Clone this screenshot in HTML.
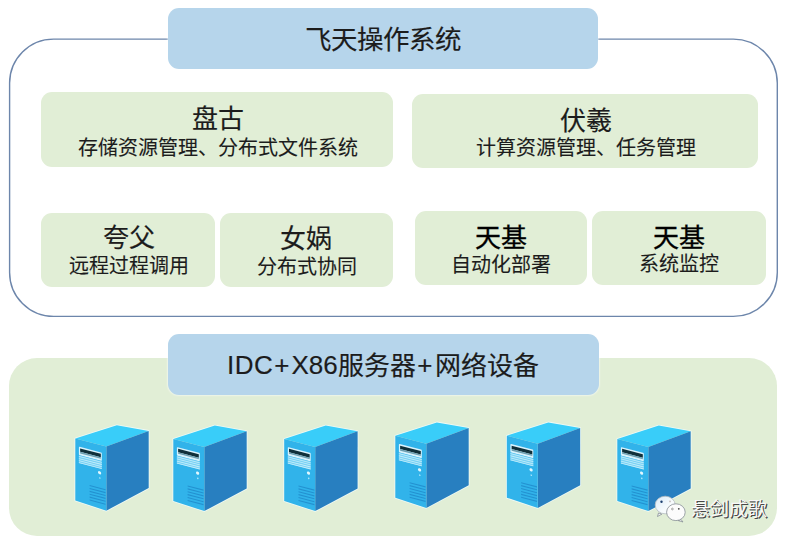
<!DOCTYPE html>
<html lang="zh-CN">
<head>
<meta charset="utf-8">
<style>
html,body{margin:0;padding:0;background:#fff;}
body{width:793px;height:544px;position:relative;overflow:hidden;font-family:"Liberation Sans",sans-serif;color:#1c1c1c;}
.a{position:absolute;}
.label{background:#b6d5eb;border-radius:11px;box-shadow:0 0 1.5px 1px rgba(255,255,255,0.45);}
.g{background:#e1eed6;border-radius:11px;}
.tx{position:absolute;white-space:nowrap;text-align:center;transform:translateX(-50%);}
.t1{font-size:26px;line-height:26px;-webkit-text-stroke:0.15px #1c1c1c;}
.t2{font-size:20px;line-height:20px;-webkit-text-stroke:0.1px #1c1c1c;}
.bottom{left:9px;top:358px;width:768px;height:178px;background:#e1eed6;border-radius:28px;}
svg{position:absolute;overflow:visible;}
</style>
</head>
<body>
<svg width="793" height="544" style="left:0;top:0"><rect x="9.6" y="39.1" width="767.7" height="277.3" rx="44" ry="44" fill="none" stroke="#6d86ab" stroke-width="1.4"/></svg>
<div class="a label" style="left:168px;top:8px;width:430px;height:61px;"></div>
<div class="tx t1" style="left:383px;top:27px;font-size:26.5px;">飞天操作系统</div>

<div class="a g" style="left:41px;top:92px;width:352px;height:74.5px;"></div>
<div class="a g" style="left:412px;top:93.5px;width:346px;height:74.5px;"></div>
<div class="a g" style="left:41px;top:213px;width:174px;height:74px;"></div>
<div class="a g" style="left:220px;top:213px;width:173px;height:74px;"></div>
<div class="a g" style="left:415px;top:211px;width:172px;height:74px;"></div>
<div class="a g" style="left:592px;top:211px;width:174px;height:74px;"></div>

<div class="tx t1" style="left:217.5px;top:105.5px;">盘古</div>
<div class="tx t2" style="left:217.5px;top:137.7px;">存储资源管理、分布式文件系统</div>
<div class="tx t1" style="left:585.5px;top:107.7px;">伏羲</div>
<div class="tx t2" style="left:585.5px;top:137.8px;">计算资源管理、任务管理</div>
<div class="tx t1" style="left:128.6px;top:225px;">夸父</div>
<div class="tx t2" style="left:128.6px;top:256px;">远程过程调用</div>
<div class="tx t1" style="left:306px;top:225.5px;">女娲</div>
<div class="tx t2" style="left:306.5px;top:256.5px;">分布式协同</div>
<div class="tx t1" style="left:501px;top:225px;color:#000;-webkit-text-stroke:0.35px #000;">天基</div>
<div class="tx t2" style="left:500.5px;top:254.5px;">自动化部署</div>
<div class="tx t1" style="left:678.7px;top:225px;color:#000;-webkit-text-stroke:0.35px #000;">天基</div>
<div class="tx t2" style="left:678.7px;top:254.3px;">系统监控</div>

<div class="a bottom"></div>
<div class="a label" style="left:168px;top:333.5px;width:430.5px;height:61px;"></div>
<div class="a t1" style="left:227px;top:353px;white-space:nowrap;"><span style="position:relative;top:-1.5px;letter-spacing:0.5px;">IDC</span><span style="position:relative;top:-1.5px;margin:0 2px 0 1px;">+</span><span style="position:relative;top:-1.5px;">X86</span>服务器<span style="position:relative;top:-1px;margin:0 2.5px 0 1.5px;">+</span>网络设备</div>


<svg width="793" height="544" style="left:0;top:0">
<g transform="translate(75.3,438.5)">
  <polygon points="0,0 41.5,-13.3 73.4,-7.6 73.4,49.6 31,72.2 0,62" fill="none" stroke="#effaf6" stroke-width="1.6" stroke-linejoin="round"/>
  <polygon points="0,0 41.5,-13.3 73.4,-7.6 31,8" fill="#39cdf9"/>
  <polygon points="31,8 73.4,-7.6 73.4,49.6 31,72.2" fill="#287fc0"/>
  <polygon points="0,0 31,8 31,72.2 0,62" fill="#31b3ea"/>
  <g transform="skewY(14.6)">
    <rect x="3.6" y="7.2" width="22.9" height="8.4" rx="0.8" fill="#d9f3fd"/>
    <rect x="4.8" y="8.7" width="20.7" height="3.4" fill="#10303a"/>
    <rect x="4.8" y="12.1" width="20.7" height="1.6" fill="#6e9fb0"/>
    <rect x="3.6" y="15.8" width="22.9" height="7.8" fill="#7ad2f4"/>
    <g fill="#c8effc">
      <rect x="3.6" y="16.6" width="22.9" height="0.8"/>
      <rect x="3.6" y="18.7" width="22.9" height="0.8"/>
      <rect x="3.6" y="20.8" width="22.9" height="0.8"/>
      <rect x="3.6" y="22.8" width="22.9" height="0.8"/>
    </g>
    <circle cx="24.3" cy="27.9" r="1.6" fill="#e3f7fe"/>
    <circle cx="24.5" cy="33.1" r="0.8" fill="#a8e4fa"/>
    <g fill="#2391d0">
      <rect x="14.3" y="42.8" width="15.9" height="1.1"/>
      <rect x="14.3" y="45.7" width="15.9" height="1.1"/>
      <rect x="14.3" y="48.6" width="15.9" height="1.1"/>
      <rect x="14.3" y="51.5" width="15.9" height="1.1"/>
      <rect x="14.3" y="54.4" width="15.9" height="1.1"/>
      <rect x="14.3" y="57.3" width="15.9" height="1.1"/>
    </g>
  </g>
</g>
<g transform="translate(173.3,438.9)">
  <polygon points="0,0 41.5,-13.3 73.4,-7.6 73.4,49.6 31,72.2 0,62" fill="none" stroke="#effaf6" stroke-width="1.6" stroke-linejoin="round"/>
  <polygon points="0,0 41.5,-13.3 73.4,-7.6 31,8" fill="#39cdf9"/>
  <polygon points="31,8 73.4,-7.6 73.4,49.6 31,72.2" fill="#287fc0"/>
  <polygon points="0,0 31,8 31,72.2 0,62" fill="#31b3ea"/>
  <g transform="skewY(14.6)">
    <rect x="3.6" y="7.2" width="22.9" height="8.4" rx="0.8" fill="#d9f3fd"/>
    <rect x="4.8" y="8.7" width="20.7" height="3.4" fill="#10303a"/>
    <rect x="4.8" y="12.1" width="20.7" height="1.6" fill="#6e9fb0"/>
    <rect x="3.6" y="15.8" width="22.9" height="7.8" fill="#7ad2f4"/>
    <g fill="#c8effc">
      <rect x="3.6" y="16.6" width="22.9" height="0.8"/>
      <rect x="3.6" y="18.7" width="22.9" height="0.8"/>
      <rect x="3.6" y="20.8" width="22.9" height="0.8"/>
      <rect x="3.6" y="22.8" width="22.9" height="0.8"/>
    </g>
    <circle cx="24.3" cy="27.9" r="1.6" fill="#e3f7fe"/>
    <circle cx="24.5" cy="33.1" r="0.8" fill="#a8e4fa"/>
    <g fill="#2391d0">
      <rect x="14.3" y="42.8" width="15.9" height="1.1"/>
      <rect x="14.3" y="45.7" width="15.9" height="1.1"/>
      <rect x="14.3" y="48.6" width="15.9" height="1.1"/>
      <rect x="14.3" y="51.5" width="15.9" height="1.1"/>
      <rect x="14.3" y="54.4" width="15.9" height="1.1"/>
      <rect x="14.3" y="57.3" width="15.9" height="1.1"/>
    </g>
  </g>
</g>
<g transform="translate(284.2,438.9)">
  <polygon points="0,0 41.5,-13.3 73.4,-7.6 73.4,49.6 31,72.2 0,62" fill="none" stroke="#effaf6" stroke-width="1.6" stroke-linejoin="round"/>
  <polygon points="0,0 41.5,-13.3 73.4,-7.6 31,8" fill="#39cdf9"/>
  <polygon points="31,8 73.4,-7.6 73.4,49.6 31,72.2" fill="#287fc0"/>
  <polygon points="0,0 31,8 31,72.2 0,62" fill="#31b3ea"/>
  <g transform="skewY(14.6)">
    <rect x="3.6" y="7.2" width="22.9" height="8.4" rx="0.8" fill="#d9f3fd"/>
    <rect x="4.8" y="8.7" width="20.7" height="3.4" fill="#10303a"/>
    <rect x="4.8" y="12.1" width="20.7" height="1.6" fill="#6e9fb0"/>
    <rect x="3.6" y="15.8" width="22.9" height="7.8" fill="#7ad2f4"/>
    <g fill="#c8effc">
      <rect x="3.6" y="16.6" width="22.9" height="0.8"/>
      <rect x="3.6" y="18.7" width="22.9" height="0.8"/>
      <rect x="3.6" y="20.8" width="22.9" height="0.8"/>
      <rect x="3.6" y="22.8" width="22.9" height="0.8"/>
    </g>
    <circle cx="24.3" cy="27.9" r="1.6" fill="#e3f7fe"/>
    <circle cx="24.5" cy="33.1" r="0.8" fill="#a8e4fa"/>
    <g fill="#2391d0">
      <rect x="14.3" y="42.8" width="15.9" height="1.1"/>
      <rect x="14.3" y="45.7" width="15.9" height="1.1"/>
      <rect x="14.3" y="48.6" width="15.9" height="1.1"/>
      <rect x="14.3" y="51.5" width="15.9" height="1.1"/>
      <rect x="14.3" y="54.4" width="15.9" height="1.1"/>
      <rect x="14.3" y="57.3" width="15.9" height="1.1"/>
    </g>
  </g>
</g>
<g transform="translate(395.3,435.7)">
  <polygon points="0,0 41.5,-13.3 73.4,-7.6 73.4,49.6 31,72.2 0,62" fill="none" stroke="#effaf6" stroke-width="1.6" stroke-linejoin="round"/>
  <polygon points="0,0 41.5,-13.3 73.4,-7.6 31,8" fill="#39cdf9"/>
  <polygon points="31,8 73.4,-7.6 73.4,49.6 31,72.2" fill="#287fc0"/>
  <polygon points="0,0 31,8 31,72.2 0,62" fill="#31b3ea"/>
  <g transform="skewY(14.6)">
    <rect x="3.6" y="7.2" width="22.9" height="8.4" rx="0.8" fill="#d9f3fd"/>
    <rect x="4.8" y="8.7" width="20.7" height="3.4" fill="#10303a"/>
    <rect x="4.8" y="12.1" width="20.7" height="1.6" fill="#6e9fb0"/>
    <rect x="3.6" y="15.8" width="22.9" height="7.8" fill="#7ad2f4"/>
    <g fill="#c8effc">
      <rect x="3.6" y="16.6" width="22.9" height="0.8"/>
      <rect x="3.6" y="18.7" width="22.9" height="0.8"/>
      <rect x="3.6" y="20.8" width="22.9" height="0.8"/>
      <rect x="3.6" y="22.8" width="22.9" height="0.8"/>
    </g>
    <circle cx="24.3" cy="27.9" r="1.6" fill="#e3f7fe"/>
    <circle cx="24.5" cy="33.1" r="0.8" fill="#a8e4fa"/>
    <g fill="#2391d0">
      <rect x="14.3" y="42.8" width="15.9" height="1.1"/>
      <rect x="14.3" y="45.7" width="15.9" height="1.1"/>
      <rect x="14.3" y="48.6" width="15.9" height="1.1"/>
      <rect x="14.3" y="51.5" width="15.9" height="1.1"/>
      <rect x="14.3" y="54.4" width="15.9" height="1.1"/>
      <rect x="14.3" y="57.3" width="15.9" height="1.1"/>
    </g>
  </g>
</g>
<g transform="translate(506.8,435.7)">
  <polygon points="0,0 41.5,-13.3 73.4,-7.6 73.4,49.6 31,72.2 0,62" fill="none" stroke="#effaf6" stroke-width="1.6" stroke-linejoin="round"/>
  <polygon points="0,0 41.5,-13.3 73.4,-7.6 31,8" fill="#39cdf9"/>
  <polygon points="31,8 73.4,-7.6 73.4,49.6 31,72.2" fill="#287fc0"/>
  <polygon points="0,0 31,8 31,72.2 0,62" fill="#31b3ea"/>
  <g transform="skewY(14.6)">
    <rect x="3.6" y="7.2" width="22.9" height="8.4" rx="0.8" fill="#d9f3fd"/>
    <rect x="4.8" y="8.7" width="20.7" height="3.4" fill="#10303a"/>
    <rect x="4.8" y="12.1" width="20.7" height="1.6" fill="#6e9fb0"/>
    <rect x="3.6" y="15.8" width="22.9" height="7.8" fill="#7ad2f4"/>
    <g fill="#c8effc">
      <rect x="3.6" y="16.6" width="22.9" height="0.8"/>
      <rect x="3.6" y="18.7" width="22.9" height="0.8"/>
      <rect x="3.6" y="20.8" width="22.9" height="0.8"/>
      <rect x="3.6" y="22.8" width="22.9" height="0.8"/>
    </g>
    <circle cx="24.3" cy="27.9" r="1.6" fill="#e3f7fe"/>
    <circle cx="24.5" cy="33.1" r="0.8" fill="#a8e4fa"/>
    <g fill="#2391d0">
      <rect x="14.3" y="42.8" width="15.9" height="1.1"/>
      <rect x="14.3" y="45.7" width="15.9" height="1.1"/>
      <rect x="14.3" y="48.6" width="15.9" height="1.1"/>
      <rect x="14.3" y="51.5" width="15.9" height="1.1"/>
      <rect x="14.3" y="54.4" width="15.9" height="1.1"/>
      <rect x="14.3" y="57.3" width="15.9" height="1.1"/>
    </g>
  </g>
</g>
<g transform="translate(617.3,438.9)">
  <polygon points="0,0 41.5,-13.3 73.4,-7.6 73.4,49.6 31,72.2 0,62" fill="none" stroke="#effaf6" stroke-width="1.6" stroke-linejoin="round"/>
  <polygon points="0,0 41.5,-13.3 73.4,-7.6 31,8" fill="#39cdf9"/>
  <polygon points="31,8 73.4,-7.6 73.4,49.6 31,72.2" fill="#287fc0"/>
  <polygon points="0,0 31,8 31,72.2 0,62" fill="#31b3ea"/>
  <g transform="skewY(14.6)">
    <rect x="3.6" y="7.2" width="22.9" height="8.4" rx="0.8" fill="#d9f3fd"/>
    <rect x="4.8" y="8.7" width="20.7" height="3.4" fill="#10303a"/>
    <rect x="4.8" y="12.1" width="20.7" height="1.6" fill="#6e9fb0"/>
    <rect x="3.6" y="15.8" width="22.9" height="7.8" fill="#7ad2f4"/>
    <g fill="#c8effc">
      <rect x="3.6" y="16.6" width="22.9" height="0.8"/>
      <rect x="3.6" y="18.7" width="22.9" height="0.8"/>
      <rect x="3.6" y="20.8" width="22.9" height="0.8"/>
      <rect x="3.6" y="22.8" width="22.9" height="0.8"/>
    </g>
    <circle cx="24.3" cy="27.9" r="1.6" fill="#e3f7fe"/>
    <circle cx="24.5" cy="33.1" r="0.8" fill="#a8e4fa"/>
    <g fill="#2391d0">
      <rect x="14.3" y="42.8" width="15.9" height="1.1"/>
      <rect x="14.3" y="45.7" width="15.9" height="1.1"/>
      <rect x="14.3" y="48.6" width="15.9" height="1.1"/>
      <rect x="14.3" y="51.5" width="15.9" height="1.1"/>
      <rect x="14.3" y="54.4" width="15.9" height="1.1"/>
      <rect x="14.3" y="57.3" width="15.9" height="1.1"/>
    </g>
  </g>
</g>

</svg>

<svg width="793" height="544" style="left:0;top:0">
  <defs><linearGradient id="bl" x1="0" y1="0" x2="1" y2="1"><stop offset="0" stop-color="#d8e9f8"/><stop offset="0.6" stop-color="#f7fbfd"/></linearGradient></defs>
  <g stroke="#868e96" stroke-width="0.8">
    <path d="M658.5,513 L657.5,516.5 L662,514 Z" fill="#f7fbfd"/>
    <ellipse cx="665.2" cy="505" rx="10" ry="8.8" fill="url(#bl)" stroke="#b5bcc2"/>
    <path d="M681,519.5 L683,522 L678,520.5 Z" fill="#fbfbfb"/>
    <ellipse cx="675.9" cy="512.2" rx="9.3" ry="8.4" fill="#fcfcfc"/>
  </g>
  <circle cx="661.5" cy="501.7" r="1.2" fill="#1d3f6e"/>
  <circle cx="670" cy="501.4" r="0.9" fill="#c8bcbc"/>
  <circle cx="672.4" cy="509" r="0.9" fill="none" stroke="#777" stroke-width="0.6"/>
  <circle cx="678.8" cy="508.8" r="0.9" fill="#444"/>
</svg>
<div class="a" style="left:691px;top:499.5px;font-size:19px;line-height:19px;color:#f8f8f8;text-shadow:1px 1px 0 #484848,0.5px 0.5px 0 #484848;letter-spacing:0px;">悬剑成歌</div>
</body>
</html>
